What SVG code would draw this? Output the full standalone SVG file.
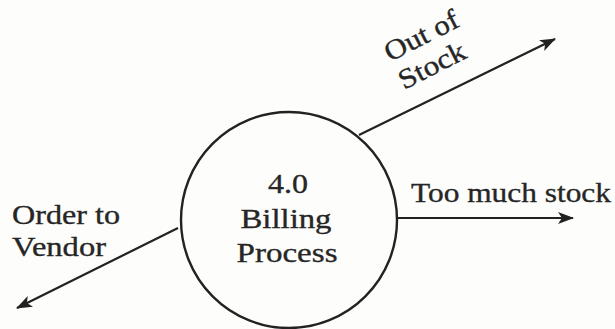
<svg xmlns="http://www.w3.org/2000/svg" width="615" height="329" viewBox="0 0 615 329">
  <style>
    text { font-family: "Liberation Serif", "Times New Roman", serif; font-size: 28px; fill: #262626; stroke: #262626; stroke-width: 0.35; }
    .mid { text-anchor: middle; }
    .flow { stroke: #222; stroke-width: 2.2; fill: none; }
    .proc { stroke: #222; stroke-width: 2.4; fill: none; }
  </style>
  <defs>
    <marker id="arrow" markerWidth="16" markerHeight="12" refX="15" refY="6" orient="auto" markerUnits="userSpaceOnUse">
      <path d="M0,0 L16,6 L0,12 L4,6 Z" fill="#222"/>
    </marker>
  </defs>
  <rect width="615" height="329" fill="#fdfdfb"/>
  <g id="process-4-0">
    <circle class="proc" cx="289" cy="220" r="108"/>
    <text class="mid" x="288" y="193" textLength="40" lengthAdjust="spacingAndGlyphs">4.0</text>
    <text class="mid" x="286" y="228" textLength="91" lengthAdjust="spacingAndGlyphs">Billing</text>
    <text class="mid" x="287" y="262" textLength="101" lengthAdjust="spacingAndGlyphs">Process</text>
  </g>
  <g id="connectors">
    <line class="flow" x1="359" y1="135" x2="555" y2="39" marker-end="url(#arrow)"/>
    <line class="flow" x1="397" y1="218" x2="573" y2="218" marker-end="url(#arrow)"/>
    <line class="flow" x1="178" y1="228" x2="17" y2="308" marker-end="url(#arrow)"/>
  </g>
  <g id="label-out-of-stock">
    <text transform="translate(390,62) rotate(-27)" textLength="80" lengthAdjust="spacingAndGlyphs">Out of</text>
    <text transform="translate(404,90) rotate(-27)" textLength="72" lengthAdjust="spacingAndGlyphs">Stock</text>
  </g>
  <g id="label-too-much-stock">
    <text x="411" y="202" textLength="200" lengthAdjust="spacingAndGlyphs">Too much stock</text>
  </g>
  <g id="label-order-to-vendor">
    <text x="12" y="224" textLength="108" lengthAdjust="spacingAndGlyphs">Order to</text>
    <text x="12" y="256" textLength="94" lengthAdjust="spacingAndGlyphs">Vendor</text>
  </g>
</svg>
